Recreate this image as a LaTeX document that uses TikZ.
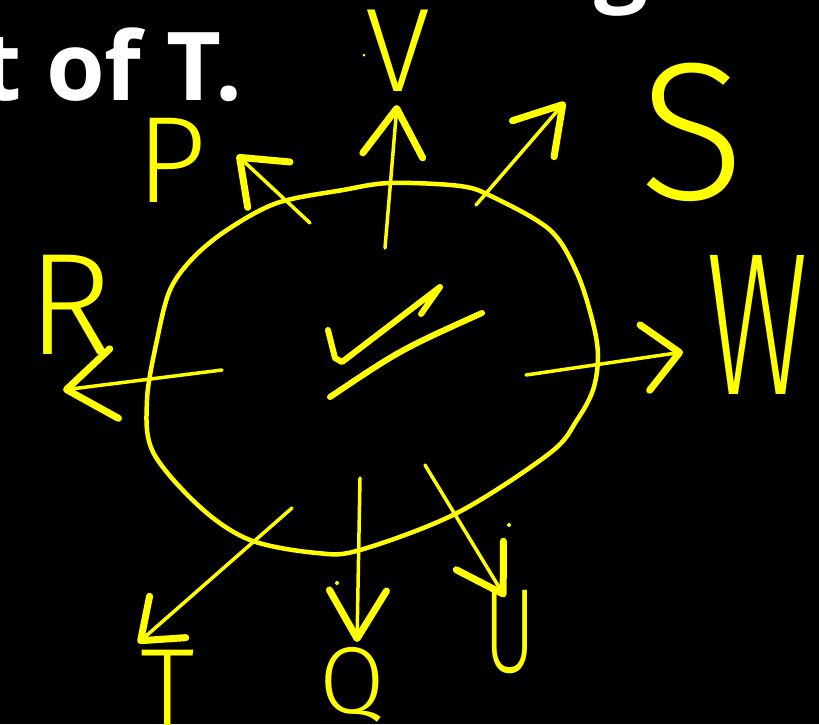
\documentclass[tikz,border=0pt]{standalone}
\usepackage{fontspec}
\usepackage{xcolor}
\usepackage{tikz}
\usetikzlibrary{arrows.meta}
\newfontfamily\headfont{Open Sans}
\newfontfamily\handfont{Fira Sans Light}
\definecolor{color_board}{rgb}{0,0,0}
\definecolor{color_ink}{rgb}{1,1,0}
\definecolor{color_chalk}{rgb}{1,1,1}

\tikzset{
	ink/.style={color_ink, line width=4.5pt, line cap=round, line join=round},
	pointer/.style 2 args={ink, line width=3.5pt, -{Straight Barb[length=#1pt, width=#2pt, line width=7pt, round]}},
	letter/.style={color_ink, inner sep=0pt, font=\handfont\fontsize{#1}{#1}\selectfont},
	speck/.style={fill=color_ink, draw=none}
}

\begin{document}
\begin{tikzpicture}[x=1pt, y=-1pt]
	% tableau noir
	\useasboundingbox (0,0) rectangle (819,724);
	\fill[color_board] (0,0) rectangle (819,724);
	\clip (0,0) rectangle (819,724);
	
	% titre coupe
	\node[anchor=base east, inner sep=0pt, text=color_chalk, font=\headfont\bfseries\fontsize{95}{100}\selectfont] (title) at (243,100) {left of T.};
	\node[anchor=base west, inner sep=0pt, text=color_chalk, font=\headfont\bfseries\fontsize{95}{100}\selectfont] (titleabove) at (594,-7) {g};
	
	% le contour a main levee
	\draw[ink] plot[smooth cycle, tension=.55] coordinates {
		(147,400) (153,452) (200,507) (250,540) (317,553) (360,550) (457,513)
		(550,453) (577,420) (593,390) (598,357) (593,323) (577,273) (550,230)
		(493,197) (460,186) (390,183) (343,190) (277,203) (227,230) (193,258)
		(170,290) (157,340)};
	
	% coche au centre
	\draw[ink, line width=6pt] (328,330) -- (335,358) -- (342,362) -- (440,287) -- (421,314);
	\draw[ink, line width=6pt] (330,397) .. controls (400,350) .. (482,313);
	
	% lettres
	\node[letter=123] (P) at (172,160) {P};
	\node[letter=119] (V) at (398,51) {V};
	\node[letter=196] (S) at (692,132) {S};
	\node[letter=203] (W) at (757,325) {\scalebox{.62}[1]{W}};
	\node[letter=145] (R) at (70,305) {R};
	\node[letter=110, anchor=north] (T) at (168,650) {T};
	\node[letter=95, anchor=base] (Q) at (352,713) {Q};
	\node[letter=120] (U) at (510,632) {\scalebox{.65}[1]{U}};
	
	% points de depart et pointes des fleches
	\coordinate (pFrom) at (310,223); \coordinate (pTo) at (237,155);
	\coordinate (vFrom) at (385,248); \coordinate (vTo) at (397,105);
	\coordinate (sFrom) at (476,205); \coordinate (sTo) at (565,102);
	\coordinate (wFrom) at (526,375); \coordinate (wTo) at (683,352);
	\coordinate (rFrom) at (222,370); \coordinate (rTo) at (63,390);
	\coordinate (tFrom) at (292,508); \coordinate (tTo) at (138,643);
	\coordinate (qFrom) at (360,478); \coordinate (qTo) at (357,642);
	\coordinate (uFrom) at (425,465); \coordinate (uTo) at (505,597);
	
	% fleches
	\draw[pointer={40}{62}] (pFrom) -- (pTo);
	\draw[pointer={47}{60}] (vFrom) -- (vTo);
	\draw[pointer={45}{55}] (sFrom) -- (sTo);
	\draw[pointer={35}{66}] (wFrom) -- (wTo);
	\draw[pointer={48}{70}] (rFrom) -- (rTo);
	\draw[pointer={36}{55}] (tFrom) -- (tTo);
	\draw[pointer={48}{57}] (qFrom) -- (qTo);
	\draw[pointer={45}{55}] (uFrom) -- (uTo);
	
	% petites taches
	\fill[speck] (247,206) circle (2.5);
	\fill[speck] (337,583) circle (2);
	\fill[speck] (509,525) circle (2);
	\fill[speck] (364,55) circle (1.5);
\end{tikzpicture}
\end{document}
